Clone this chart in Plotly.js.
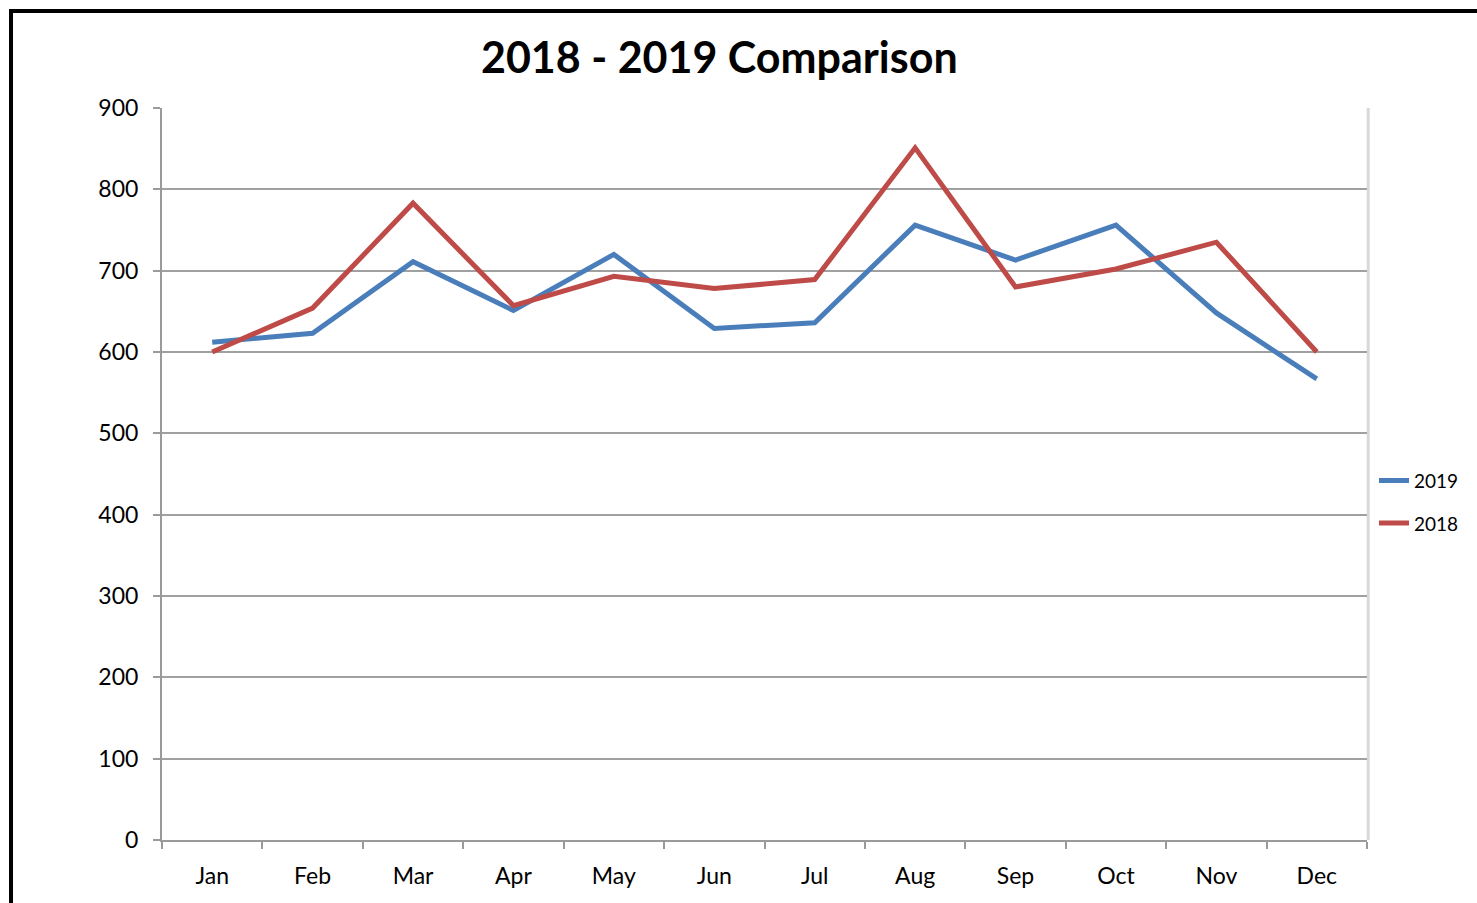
<!DOCTYPE html>
<html>
<head>
<meta charset="utf-8">
<script src="https://cdn.plot.ly/plotly-3.0.1.min.js"></script>
<style>html,body{margin:0;padding:0;background:#fff;}#chart{width:1477px;height:903px;}</style>
</head>
<body>
<div id="chart"></div>
<script>
const months = ["Jan","Feb","Mar","Apr","May","Jun","Jul","Aug","Sep","Oct","Nov","Dec"];
const values2019 = [612, 623, 711, 651, 720, 629, 636, 756, 713, 756, 648, 567];
const values2018 = [600, 654, 783, 657, 693, 678, 689, 851, 680, 702, 735, 600];
const yTicks = [0, 100, 200, 300, 400, 500, 600, 700, 800, 900];

const FONT = "Lato, 'Open Sans', sans-serif";

const traces = [
  {x: months, y: values2019, type: "scatter", mode: "lines", name: "2019",
   line: {color: "#4A7EBB", width: 5}, legendgroup: "a"},
  {x: months, y: values2018, type: "scatter", mode: "lines", name: "2018",
   line: {color: "#BE4B48", width: 5}, legendgroup: "b"}
];

const layout = {
  width: 1477, height: 903,
  margin: {l: 162, r: 110, t: 108, b: 63},
  paper_bgcolor: "#ffffff", plot_bgcolor: "#ffffff",
  font: {family: FONT, color: "#000000", size: 23},
  title: {text: "<b>2018 - 2019 Comparison</b>", font: {family: FONT, size: 43, color: "#000"},
          x: 0.487, xanchor: "center", y: 0.936, yanchor: "middle"},
  showlegend: true,
  legend: {x: 1.0058, xanchor: "left", y: 0.517, yanchor: "top",
           font: {family: FONT, size: 19, color: "#000"}, tracegroupgap: 15,
           bgcolor: "rgba(0,0,0,0)"},
  xaxis: {type: "category", range: [-0.5, 11.5], showgrid: false,
          showline: true, linecolor: "#9a9a9a", linewidth: 2,
          ticks: "outside", tickson: "boundaries", ticklen: 7, tickcolor: "#9a9a9a", tickwidth: 2,
          tickfont: {family: FONT, size: 23, color: "#000"}, ticklabelstandoff: 14,
          fixedrange: true},
  yaxis: {range: [0, 900], tickvals: yTicks, showgrid: true, gridcolor: "#a0a0a0", gridwidth: 2,
          showline: true, linecolor: "#9a9a9a", linewidth: 2, zeroline: false,
          ticks: "outside", ticklen: 7, tickcolor: "#9a9a9a", tickwidth: 2,
          tickfont: {family: FONT, size: 23, color: "#000"}, ticklabelstandoff: 10,
          fixedrange: true},
  shapes: [
    {type: "rect", xref: "paper", yref: "paper", x0: -0.1253, x1: 1.3, y0: -0.3, y1: 1.1325,
     line: {color: "#000", width: 4}, fillcolor: "rgba(0,0,0,0)", layer: "below"},
    {type: "line", xref: "paper", yref: "paper", x0: 1.001, x1: 1.001, y0: 0, y1: 1,
     line: {color: "#d8d8d8", width: 3}, layer: "below"}
  ]
};

Plotly.newPlot("chart", traces, layout, {displayModeBar: false, staticPlot: true});
</script>
</body>
</html>
